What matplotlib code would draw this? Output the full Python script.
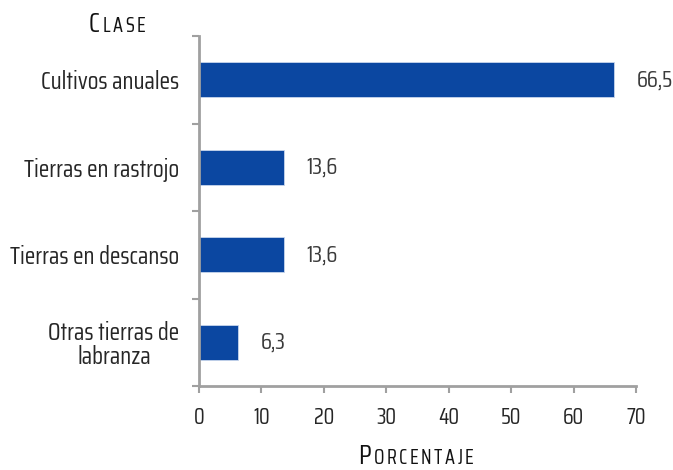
import matplotlib
matplotlib.use("Agg")
import matplotlib.pyplot as plt
from matplotlib import font_manager as fm
from matplotlib.offsetbox import TextArea, HPacker, AnnotationBbox
import numpy as np

categories = ["Cultivos anuales", "Tierras en rastrojo", "Tierras en descanso", "Otras tierras de\nlabranza"]
values = [66.5, 13.6, 13.6, 6.3]
value_labels = ["66,5", "13,6", "13,6", "6,3"]
xticks = [0, 10, 20, 30, 40, 50, 60, 70]

names = {f.name for f in fm.fontManager.ttflist}
FONT = "DejaVu Sans"
for cand in ["Saira Semi Condensed", "Saira Condensed", "Barlow Semi Condensed",
             "Roboto Condensed", "Encode Sans Condensed", "PT Sans Narrow", "Liberation Sans Narrow"]:
    if cand in names:
        FONT = cand
        break
plt.rcParams['font.family'] = [FONT, 'DejaVu Sans']

TXT = "#262626"
VAL = "#3a3a3a"
AX = "#a0a0a0"
BAR = "#0B47A1"

fig = plt.figure(figsize=(6.73, 4.70), dpi=100)
ax = fig.add_axes([0.2957, 0.1787, 0.6493, 0.7447])

y = np.arange(len(categories))
ax.barh(y, values, height=0.4, color=BAR, edgecolor="#c8d6ec", linewidth=0.6)
ax.set_ylim(len(categories) - 0.5, -0.5)
ax.set_xlim(0, 70)
ax.set_xticks(xticks)
ax.set_xticklabels([str(t) for t in xticks], fontsize=16, color=TXT)
ax.set_yticks(y)
ax.set_yticklabels(categories, fontsize=17.5, color=TXT, linespacing=1.0)
for t in ax.get_yticklabels():
    t.set_multialignment('center')
ax.set_yticks(np.arange(-0.5, len(categories) + 0.5, 1), minor=True)
ax.tick_params(axis='y', which='major', length=0, pad=14)
ax.tick_params(axis='y', which='minor', length=5, color=AX, width=1.5)
ax.tick_params(axis='x', length=5, color=AX, width=1.5, pad=10)

for s in ['top', 'right']:
    ax.spines[s].set_visible(False)
for s in ['left', 'bottom']:
    ax.spines[s].set_color(AX)
    ax.spines[s].set_linewidth(2)

for yi, v, lab in zip(y, values, value_labels):
    ax.annotate(lab, xy=(v, yi), xytext=(16, 0), textcoords='offset points',
                va='center', ha='left', fontsize=16.5, color=VAL)

def smallcaps(xpix, ypix, word, big=19.5, small=14.5):
    kids = [TextArea(word[0].upper(), textprops=dict(fontsize=big, color="#111111", weight='normal'))]
    for ch in word[1:].upper():
        kids.append(TextArea(ch, textprops=dict(fontsize=small, color="#111111", weight='normal')))
    box = HPacker(children=kids, align="baseline", pad=0, sep=1.8)
    ab = AnnotationBbox(box, (xpix, 470 - ypix), xycoords='figure pixels',
                        box_alignment=(0.5, 0.5), frameon=False, pad=0)
    fig.add_artist(ab)

smallcaps(117, 24, "Clase")
smallcaps(416, 457, "Porcentaje")

fig.savefig("out.png", dpi=100)
